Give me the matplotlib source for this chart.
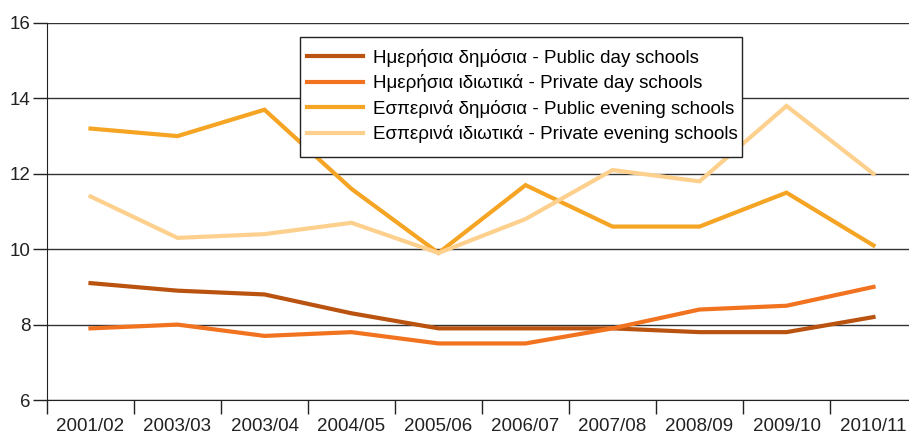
import numpy as np
import matplotlib
matplotlib.use('Agg')
import matplotlib.pyplot as plt
from matplotlib.patches import Rectangle

plt.rcParams['font.family'] = ['Liberation Sans', 'DejaVu Sans']

years = ['2001/02', '2003/03', '2003/04', '2004/05', '2005/06',
         '2006/07', '2007/08', '2008/09', '2009/10', '2010/11']
public_day = [9.1, 8.9, 8.8, 8.3, 7.9, 7.9, 7.9, 7.8, 7.8, 8.2]
private_day = [7.9, 8.0, 7.7, 7.8, 7.5, 7.5, 7.9, 8.4, 8.5, 9.0]
public_evening = [13.2, 13.0, 13.7, 11.6, 9.9, 11.7, 10.6, 10.6, 11.5, 10.1]
private_evening = [11.4, 10.3, 10.4, 10.7, 9.9, 10.8, 12.1, 11.8, 13.8, 12.0]

labels = ['Ημερήσια δημόσια - Public day schools',
          'Ημερήσια ιδιωτικά - Private day schools',
          'Εσπερινά δημόσια - Public evening schools',
          'Εσπερινά ιδιωτικά - Private evening schools']
colors = ['#B9530F', '#F2731F', '#F5A423', '#FDD08E']

W, H = 909, 436
fig = plt.figure(figsize=(W / 100, H / 100), dpi=100)
ax = fig.add_axes([47 / W, (H - 400) / H, 1 - 47 / W, (400 - 23) / H])

x = np.arange(len(years))
for vals, lab, c in zip([public_day, private_day, public_evening, private_evening], labels, colors):
    ax.plot(x, vals, color=c, lw=3, label=lab, solid_joinstyle='miter')

ax.set_ylim(6, 16)
ax.set_xlim(-0.5, 9.5 - 8 / 87)
ax.set_yticks([6, 8, 10, 12, 14, 16])
ax.yaxis.grid(True, color='#333333', lw=1)
ax.set_axisbelow(True)

ax.set_xticks(x)
ax.set_xticklabels(years)
ax.set_xticks(np.arange(-0.5, 9.0, 1.0), minor=True)
ax.tick_params(axis='x', which='major', length=0, pad=13, labelsize=13.5, colors='#222222')
ax.tick_params(axis='x', which='minor', length=10, width=1, color='#222222')
ax.tick_params(axis='y', length=10, width=1, labelsize=13.5, pad=2, colors='#222222')

for s in ['top', 'right']:
    ax.spines[s].set_visible(False)
ax.spines['left'].set_color('#222222')
ax.spines['bottom'].set_color('#222222')

# legend box drawn by hand so it can be taller than matplotlib's padding allows
box = Rectangle((300 / W, 1 - 157 / H), 442 / W, 120 / H, transform=fig.transFigure,
                facecolor='white', edgecolor='#222222', lw=1, zorder=4.9, clip_on=False)
ax.add_patch(box)

leg = ax.legend(loc='center left', bbox_to_anchor=(307 / W, 1 - 96 / H),
                bbox_transform=fig.transFigure, fontsize=13.5, frameon=False,
                handlelength=3.0, borderpad=0, labelspacing=0.40,
                handletextpad=0.5, borderaxespad=0)
leg.set_zorder(5)

fig.savefig('out.png', dpi=100)
